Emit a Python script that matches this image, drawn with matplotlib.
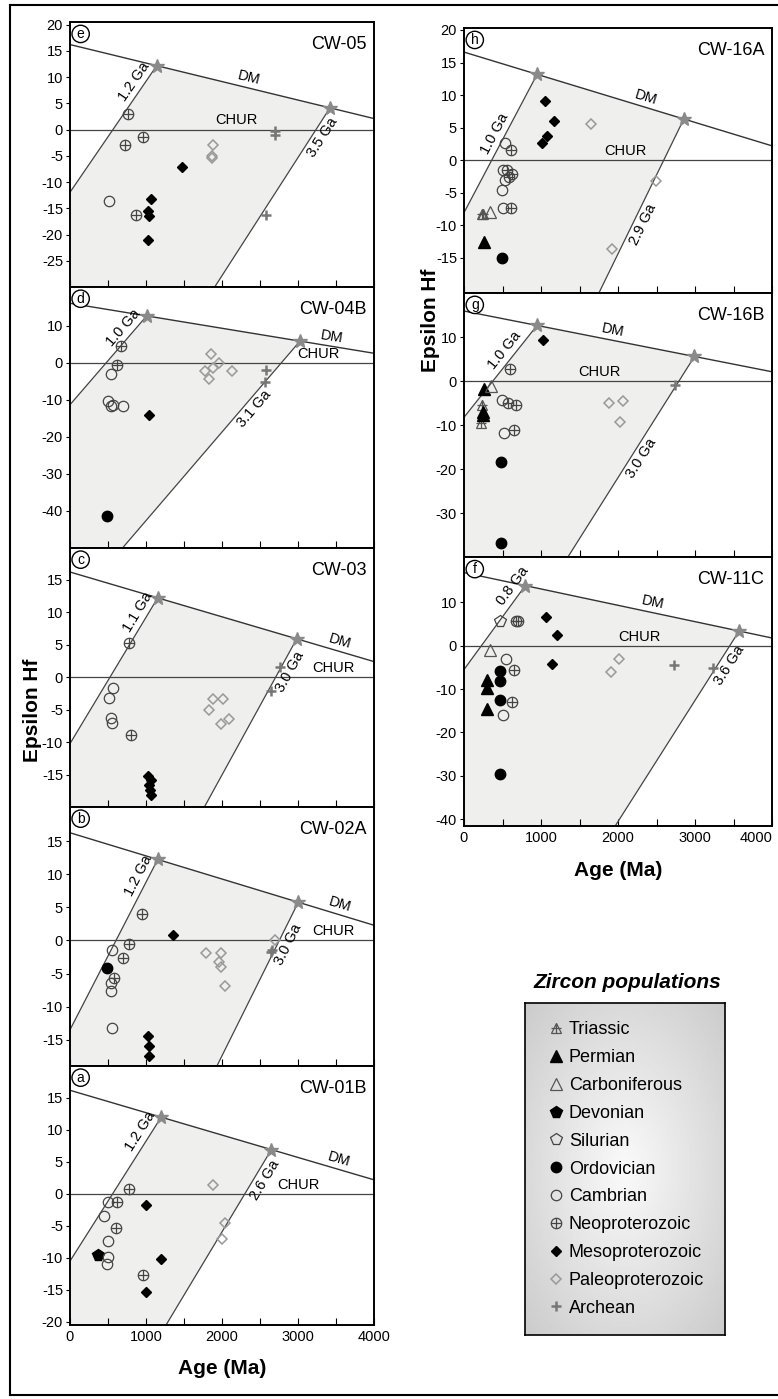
import numpy as np
import matplotlib
matplotlib.use('Agg')
import matplotlib.pyplot as plt
from matplotlib.lines import Line2D
from matplotlib.legend_handler import HandlerTuple
from matplotlib.patches import Polygon
from matplotlib.ticker import MultipleLocator

plt.rcParams['font.family'] = ['Liberation Sans', 'DejaVu Sans']
plt.rcParams['axes.unicode_minus'] = False

# ---- zircon data: population -> (ages in Ma, epsilon Hf) ----
cw05 = {
    'Neoproterozoic': ([767, 724, 965, 864], [2.9, -2.9, -1.5, -16.3]),
    'Cambrian': ([518], [-13.6]),
    'Mesoproterozoic': ([1066, 1031, 1040, 1022, 1478], [-13.3, -15.5, -16.5, -21.1, -7.1]),
    'Paleoproterozoic': ([1877, 1868, 1868], [-3.0, -5.0, -5.5]),
    'Archean': ([2702, 2702, 2575], [-0.3, -1.1, -16.3]),
}
cw04b = {
    'Neoproterozoic': ([667, 614], [4.6, -0.7]),
    'Cambrian': ([539, 504, 539, 560, 693], [-2.9, -10.4, -11.7, -11.3, -11.6]),
    'Ordovician': ([491], [-41.4]),
    'Mesoproterozoic': ([1044], [-14.0]),
    'Paleoproterozoic': ([1851, 1781, 1886, 1833, 1956, 2127], [2.3, -2.2, -1.3, -4.3, -0.1, -2.2]),
    'Archean': ([2579, 2566], [-2.0, -5.2]),
}
cw03 = {
    'Neoproterozoic': ([781, 803], [5.3, -8.9]),
    'Cambrian': ([561, 518, 539, 553], [-1.6, -3.2, -6.3, -7.1]),
    'Mesoproterozoic': ([1022, 1061, 1045, 1055, 1065], [-15.3, -15.8, -16.6, -17.4, -18.2]),
    'Paleoproterozoic': ([1877, 2009, 1833, 1987, 2088], [-3.3, -3.3, -5.0, -7.2, -6.5]),
    'Archean': ([2763, 2640], [1.6, -2.2]),
}
cw02a = {
    'Neoproterozoic': ([943, 776, 702, 579], [4.0, -0.6, -2.7, -5.7]),
    'Cambrian': ([553, 539, 539, 553], [-1.4, -6.4, -7.7, -13.2]),
    'Ordovician': ([491], [-4.2]),
    'Mesoproterozoic': ([1360, 1030, 1040, 1035], [0.9, -14.5, -16.0, -17.5]),
    'Paleoproterozoic': ([1789, 1982, 1956, 1982, 2044, 2702], [-1.9, -1.9, -3.3, -4.0, -6.9, 0.0]),
    'Archean': ([2640, 2660], [-1.8, -1.5]),
}
cw01b = {
    'Devonian': ([370], [-9.6]),
    'Cambrian': ([500, 450, 500, 500, 490], [-1.2, -3.5, -7.3, -9.8, -11.0]),
    'Neoproterozoic': ([770, 620, 600, 960], [0.8, -1.2, -5.3, -12.7]),
    'Mesoproterozoic': ([1000, 1200, 1000], [-1.8, -10.2, -15.3]),
    'Paleoproterozoic': ([1880, 2040, 2000], [1.4, -4.6, -7.0]),
}
cw16a = {
    'Triassic': ([252, 230], [-8.3, -8.3]),
    'Permian': ([265], [-12.6]),
    'Carboniferous': ([339], [-7.9]),
    'Ordovician': ([492], [-15.1]),
    'Cambrian': ([535, 505, 535, 492, 505], [2.7, -1.5, -3.0, -4.6, -7.4]),
    'Neoproterozoic': ([614, 560, 622, 590, 610], [1.5, -1.5, -2.2, -2.6, -7.4]),
    'Mesoproterozoic': ([1057, 1166, 1079, 1018], [9.1, 6.0, 3.7, 2.6]),
    'Paleoproterozoic': ([1645, 2493, 1928], [5.5, -3.2, -13.6]),
}
cw16b = {
    'Triassic': ([231, 218], [-5.5, -9.6]),
    'Permian': ([265, 252, 252], [-1.9, -7.0, -7.7]),
    'Carboniferous': ([348], [-1.1]),
    'Ordovician': ([479, 483], [-18.5, -36.8]),
    'Cambrian': ([492, 513], [-4.3, -11.9]),
    'Neoproterozoic': ([592, 565, 679, 653], [2.7, -5.1, -5.5, -11.1]),
    'Mesoproterozoic': ([1027], [9.3]),
    'Paleoproterozoic': ([1884, 2059, 2028], [-5.1, -4.5, -9.4]),
    'Archean': ([2742], [-0.8]),
}
cw11c = {
    'Permian': ([296, 296, 296], [-7.9, -9.8, -14.5]),
    'Carboniferous': ([339], [-0.9]),
    'Silurian': ([470], [5.8]),
    'Ordovician': ([470, 470, 470, 470], [-5.9, -8.2, -12.5, -29.5]),
    'Cambrian': ([544, 500], [-3.0, -16.0]),
    'Neoproterozoic': ([679, 700, 644, 620], [5.8, 5.8, -5.5, -13.0]),
    'Mesoproterozoic': ([1066, 1210, 1144], [6.6, 2.5, -4.2]),
    'Paleoproterozoic': ([2014, 1915], [-3.1, -6.1]),
    'Archean': ([2733, 3234], [-4.4, -5.2]),
}

# model geometry: DM eps at 0 / 4000 Ma, model ages (star) and where each crustal line crosses CHUR
# young/old label eps, DM label age, CHUR label age
geo_cw05 = dict(dm=(16.2, 2.1), young=(1141, 565, '1.2 Ga', 8.1), old=(3421, 3237, '3.5 Ga', -0.5), dmx=2324, chx=2193)
geo_cw04b = dict(dm=(16.1, 2.6), young=(1009, 475, '1.0 Ga', 7.7), old=(3026, 2780, '3.1 Ga', -10.7), dmx=3421, chx=3263)
geo_cw03 = dict(dm=(16.2, 2.4), young=(1154, 526, '1.1 Ga', 9.3), old=(2983, 2706, '3.0 Ga', 1.6), dmx=3509, chx=3465)
geo_cw02a = dict(dm=(16.3, 2.3), young=(1154, 605, '1.2 Ga', 9.1), old=(3004, 2754, '3.0 Ga', 0.0), dmx=3509, chx=3465)
geo_cw01b = dict(dm=(16.2, 2.2), young=(1200, 560, '1.2 Ga', 9.0), old=(2650, 2300, '2.6 Ga', 3.0), dmx=3500, chx=3000)
geo_cw16a = dict(dm=(16.6, 2.2), young=(949, 360, '1.0 Ga', 3.3), old=(2855, 2594, '2.9 Ga', -9.2), dmx=2320, chx=2102)
geo_cw16b = dict(dm=(15.9, 2.1), young=(949, 375, '1.0 Ga', 5.5), old=(2993, 2792, '3.0 Ga', -16.4), dmx=1906, chx=1753)
geo_cw11c = dict(dm=(16.9, 1.8), young=(796, 225, '0.8 Ga', 12.5), old=(3573, 3451, '3.6 Ga', -3.2), dmx=2428, chx=2275)

legend_order = ['Triassic', 'Permian', 'Carboniferous', 'Devonian', 'Silurian', 'Ordovician',
                'Cambrian', 'Neoproterozoic', 'Mesoproterozoic', 'Paleoproterozoic', 'Archean']

styles = {
    'Triassic': [dict(marker='^', ms=7.5, mfc='none', mec='#555555', mew=0.9),
                 dict(marker='+', ms=6.5, mec='#555555', mew=0.9)],
    'Permian': [dict(marker='^', ms=8, mfc='k', mec='k')],
    'Carboniferous': [dict(marker='^', ms=8.5, mfc='none', mec='#555555', mew=0.9)],
    'Devonian': [dict(marker='p', ms=8.5, mfc='k', mec='k')],
    'Silurian': [dict(marker='p', ms=8.5, mfc='none', mec='#444444', mew=0.9)],
    'Ordovician': [dict(marker='o', ms=7.5, mfc='k', mec='k')],
    'Cambrian': [dict(marker='o', ms=7.5, mfc='none', mec='#444444', mew=0.9)],
    'Neoproterozoic': [dict(marker='o', ms=7.5, mfc='none', mec='#444444', mew=0.9),
                       dict(marker='+', ms=7.5, mec='#444444', mew=0.9)],
    'Mesoproterozoic': [dict(marker='D', ms=5.5, mfc='k', mec='k')],
    'Paleoproterozoic': [dict(marker='D', ms=5.5, mfc='none', mec='#999999', mew=1.1)],
    'Archean': [dict(marker='+', ms=7, mec='#777777', mew=1.8)],
}

W, H = 778, 1399
fig = plt.figure(figsize=(W / 100, H / 100), dpi=100)


def px_axes(x0, x1, y0, y1):
    return fig.add_axes([x0 / W, 1 - y1 / H, (x1 - x0) / W, (y1 - y0) / H])


def seg_angle(ax, p, q):
    a = ax.transData.transform(p)
    b = ax.transData.transform(q)
    return np.degrees(np.arctan2(b[1] - a[1], b[0] - a[0]))


def draw_panel(ax, pts, geo, ylim, yticks, letter, name, show_x):
    ax.set_xlim(0, 4000)
    ax.set_ylim(*ylim)
    d0, d4 = geo['dm']

    def dm(t):
        return d0 + (d4 - d0) * t / 4000.0

    ty, cy, ytxt, yle = geo['young']
    to, co, otxt, ole = geo['old']
    sy = dm(ty) / (ty - cy)
    so = dm(to) / (to - co)
    low = -200
    yb = (cy + low / sy, low)
    ob = (co + low / so, low)
    ax.add_patch(Polygon([(ty, dm(ty)), (to, dm(to)), ob, yb], closed=True,
                         fc='#efefed', ec='none', zorder=0))
    ax.plot([0, 4000], [d0, d4], color='#333333', lw=1.0, zorder=2)
    ax.axhline(0, color='#444444', lw=0.9, zorder=2)
    ax.plot([ty, yb[0]], [dm(ty), low], color='#444444', lw=0.9, zorder=2)
    ax.plot([to, ob[0]], [dm(to), low], color='#444444', lw=0.9, zorder=2)
    ax.plot([ty, to], [dm(ty), dm(to)], ls='none', marker='*', ms=10,
            color='#8a8a8a', zorder=3)

    for pop in legend_order:
        if pop in pts:
            ages, eps = pts[pop]
            for st in styles[pop]:
                ax.plot(ages, eps, ls='none', zorder=4, **st)

    # model age labels along the crustal lines
    ang = seg_angle(ax, yb, (ty, dm(ty)))
    r = np.radians(ang)
    ax.annotate(ytxt, xy=(cy + yle / sy, yle), xytext=(-np.sin(r) * 7, np.cos(r) * 7),
                textcoords='offset points', rotation=ang, rotation_mode='anchor',
                ha='center', va='center', fontsize=10.5)
    ang = seg_angle(ax, ob, (to, dm(to)))
    r = np.radians(ang)
    ax.annotate(otxt, xy=(co + ole / so, ole), xytext=(np.sin(r) * 7, -np.cos(r) * 7),
                textcoords='offset points', rotation=ang, rotation_mode='anchor',
                ha='center', va='center', fontsize=10.5)
    ang = seg_angle(ax, (0, d0), (4000, d4))
    r = np.radians(ang)
    ax.annotate('DM', xy=(geo['dmx'], dm(geo['dmx'])), xytext=(-np.sin(r) * 7, np.cos(r) * 7),
                textcoords='offset points', rotation=ang, rotation_mode='anchor',
                ha='center', va='center', fontsize=10.5)
    ax.annotate('CHUR', xy=(geo['chx'], 0), xytext=(0, 1.5), textcoords='offset points',
                ha='center', va='bottom', fontsize=10.5)

    ax.text(0.035, 0.955, letter, transform=ax.transAxes, ha='center', va='center',
            fontsize=10, zorder=6,
            bbox=dict(boxstyle='circle,pad=0.12', fc='white', ec='k', lw=1.0))
    ax.text(0.975, 0.915, name, transform=ax.transAxes, ha='right', va='center', fontsize=13)

    ax.set_yticks(yticks)
    ax.set_xticks([0, 1000, 2000, 3000, 4000])
    ax.xaxis.set_minor_locator(MultipleLocator(500))
    ax.tick_params(axis='x', which='both', direction='in', length=5, width=0.8,
                   labelsize=10.5, labelbottom=show_x)
    ax.tick_params(axis='y', direction='out', length=3, width=0.8, labelsize=10.5, pad=2)
    for s in ax.spines.values():
        s.set_linewidth(1.4)


LX0, LX1 = 70, 374
RX0, RX1 = 464, 772

left_panels = [
    (cw05, geo_cw05, (-30, 20.5), [20, 15, 10, 5, 0, -5, -10, -15, -20, -25], 'e', 'CW-05', (22, 287)),
    (cw04b, geo_cw04b, (-50, 20.5), [10, 0, -10, -20, -30, -40], 'd', 'CW-04B', (287, 548)),
    (cw03, geo_cw03, (-20, 19.9), [15, 10, 5, 0, -5, -10, -15], 'c', 'CW-03', (548, 807)),
    (cw02a, geo_cw02a, (-19, 20.2), [15, 10, 5, 0, -5, -10, -15], 'b', 'CW-02A', (807, 1066)),
    (cw01b, geo_cw01b, (-20.5, 20), [15, 10, 5, 0, -5, -10, -15, -20], 'a', 'CW-01B', (1066, 1325)),
]
right_panels = [
    (cw16a, geo_cw16a, (-20.4, 20.3), [20, 15, 10, 5, 0, -5, -10, -15], 'h', 'CW-16A', (28, 293)),
    (cw16b, geo_cw16b, (-40, 20), [10, 0, -10, -20, -30], 'g', 'CW-16B', (293, 557)),
    (cw11c, geo_cw11c, (-41.6, 20.5), [10, 0, -10, -20, -30, -40], 'f', 'CW-11C', (557, 826)),
]

for i, (pts, geo, yl, yt, let, nm, (t, b)) in enumerate(left_panels):
    ax = px_axes(LX0, LX1, t, b)
    draw_panel(ax, pts, geo, yl, yt, let, nm, i == len(left_panels) - 1)
for i, (pts, geo, yl, yt, let, nm, (t, b)) in enumerate(right_panels):
    ax = px_axes(RX0, RX1, t, b)
    draw_panel(ax, pts, geo, yl, yt, let, nm, i == len(right_panels) - 1)
# keep the last tick label of the right column inside the figure
ax.get_xticklabels()[-1].set_horizontalalignment('right')

fig.text(33 / W, 1 - 710 / H, 'Epsilon Hf', rotation=90, fontsize=15, weight='bold',
         ha='center', va='center')
fig.text(430 / W, 1 - 320 / H, 'Epsilon Hf', rotation=90, fontsize=15, weight='bold',
         ha='center', va='center')
fig.text(222 / W, 1 - 1368 / H, 'Age (Ma)', fontsize=15, weight='bold', ha='center', va='center')
fig.text(618 / W, 1 - 870 / H, 'Age (Ma)', fontsize=15, weight='bold', ha='center', va='center')

# legend box with soft radial shading
fig.text(627 / W, 1 - 982 / H, 'Zircon populations', fontsize=15, weight='bold',
         style='italic', ha='center', va='center')
lax = px_axes(525, 725, 1003, 1335)
yy, xx = np.mgrid[-1:1:200j, -1:1:200j]
shade = 0.98 - 0.13 * np.clip(np.sqrt(xx ** 2 + yy ** 2), 0, 1.4)
lax.imshow(shade, extent=[0, 1, 0, 1], cmap='gray', vmin=0, vmax=1, aspect='auto')
lax.set_xticks([])
lax.set_yticks([])
for s in lax.spines.values():
    s.set_linewidth(1.2)
handles = []
for pop in legend_order:
    parts = tuple(Line2D([], [], ls='none', **st) for st in styles[pop])
    handles.append(parts)
lax.legend(handles, legend_order, loc='center left', bbox_to_anchor=(0.03, 0.5),
           frameon=False, fontsize=13, labelspacing=0.6, handlelength=1.0,
           handletextpad=0.2, handler_map={tuple: HandlerTuple(ndivide=1)})

# outer frame: left, top and bottom edges
for xs, ys in [((10, 10), (5, 1395)), ((10, 778), (5, 5)), ((10, 778), (1395, 1395))]:
    fig.add_artist(Line2D([x / W for x in xs], [1 - y / H for y in ys],
                          transform=fig.transFigure, color='k', lw=1.5))

fig.savefig('out.png', dpi=100)
